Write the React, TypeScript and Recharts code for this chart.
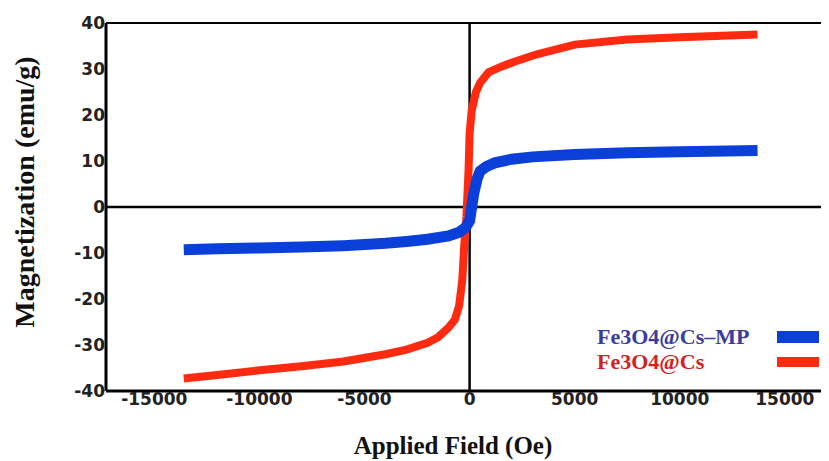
import React from "react";
import {
  LineChart,
  Line,
  XAxis,
  YAxis,
  ReferenceLine,
  Label,
} from "recharts";

// applied field (Oe) and magnetization (emu/g)
const mpField = [
  -13600, -12000, -10000, -8000, -6000, -4000, -3000, -2000, -1000, -500, -200, 0,
  100, 200, 350, 500, 800, 1200, 2000, 3000, 5000, 7500, 10000, 13700,
];
const mpMag = [
  -9.3, -9.1, -8.9, -8.7, -8.4, -7.9, -7.5, -7.0, -6.3, -5.5, -4.5, -3.0,
  0, 3.0, 6.0, 7.8, 8.8, 9.6, 10.4, 10.9, 11.4, 11.8, 12.0, 12.3,
];

const csField = [
  -13600, -12000, -10000, -8000, -6000, -4000, -3000, -2000, -1500, -1000, -700, -500,
  -350, -250, -150, -50, 0, 100, 300, 500, 900, 1500, 2200, 3200, 5000, 7500, 10000,
  13700,
];
const csMag = [
  -37.3, -36.5, -35.5, -34.6, -33.6, -32.0, -31.0, -29.5, -28.3, -26.2, -24.5, -21.5,
  -16, -8, -2, 8, 16, 21, 25, 27, 29.3, 30.5, 31.7, 33.2, 35.3, 36.4, 36.9, 37.5,
];

const xTicks = [-15000, -10000, -5000, 0, 5000, 10000, 15000];
const yTicks = [-40, -30, -20, -10, 0, 10, 20, 30, 40];

const mpData = mpField.map((f, i) => ({ field: f, mag: mpMag[i] }));
const csData = csField.map((f, i) => ({ field: f, mag: csMag[i] }));

const series = [
  { name: "Fe3O4@Cs\u2013MP", color: "#0b3fd9", text: "#3a3d9c", h: 12 },
  { name: "Fe3O4@Cs", color: "#ff2a10", text: "#d42020", h: 10 },
];

const tickStyle = {
  fontFamily: "'DejaVu Sans', Arial, sans-serif",
  fontWeight: 700,
  fontSize: 17,
  fill: "#222",
};

const serif = "'Liberation Serif', 'Times New Roman', serif";

function LegendBox() {
  return (
    <div
      style={{
        position: "absolute",
        left: 589,
        top: 316,
        fontFamily: serif,
        fontWeight: 700,
        lineHeight: "25px",
      }}
    >
      {series.map((s) => (
        <div key={s.name} style={{ display: "flex", alignItems: "center", height: 25 }}>
          <span style={{ width: 180, color: s.text, fontSize: 22 }}>{s.name}</span>
          <span
            style={{ width: 42, height: s.h, background: s.color, display: "inline-block" }}
          />
        </div>
      ))}
    </div>
  );
}

export default function App() {
  return (
    <div style={{ position: "relative", width: 821, height: 453 }}>
      <LineChart
        width={821}
        height={453}
        margin={{ top: 15, right: 0, bottom: 40, left: 0 }}
      >
        <XAxis
          type="number"
          dataKey="field"
          domain={[-17300, 17100]}
          ticks={xTicks}
          allowDataOverflow
          tickLine={false}
          tickSize={0}
          tickMargin={2}
          height={30}
          axisLine={{ stroke: "#000", strokeWidth: 3 }}
          tick={tickStyle}
        >
          <Label
            content={() => (
              <text
                x={445}
                y={446}
                textAnchor="middle"
                style={{ fontFamily: serif, fontWeight: 700, fontSize: 25, fill: "#111" }}
              >
                Applied Field (Oe)
              </text>
            )}
          />
        </XAxis>
        <YAxis
          type="number"
          dataKey="mag"
          domain={[-40, 40]}
          ticks={yTicks}
          width={98}
          tickLine={false}
          tickSize={0}
          tickMargin={1}
          axisLine={{ stroke: "#000", strokeWidth: 3 }}
          tick={tickStyle}
        >
          <Label
            content={() => (
              <text
                x={17}
                y={184}
                dy={9}
                textAnchor="middle"
                transform="rotate(-90 17 184)"
                style={{ fontFamily: serif, fontWeight: 700, fontSize: 28, fill: "#111" }}
              >
                Magnetization (emu/g)
              </text>
            )}
          />
        </YAxis>
        <ReferenceLine y={40} stroke="#000" strokeWidth={2} />
        <ReferenceLine y={0} stroke="#000" strokeWidth={2.5} />
        <ReferenceLine x={0} stroke="#000" strokeWidth={2.5} />
        <Line
          data={csData}
          dataKey="mag"
          name={series[1].name}
          stroke={series[1].color}
          strokeWidth={8}
          dot={false}
          type="linear"
          isAnimationActive={false}
        />
        <Line
          data={mpData}
          dataKey="mag"
          name={series[0].name}
          stroke={series[0].color}
          strokeWidth={11}
          dot={false}
          type="linear"
          isAnimationActive={false}
        />
      </LineChart>
      <LegendBox />
    </div>
  );
}
